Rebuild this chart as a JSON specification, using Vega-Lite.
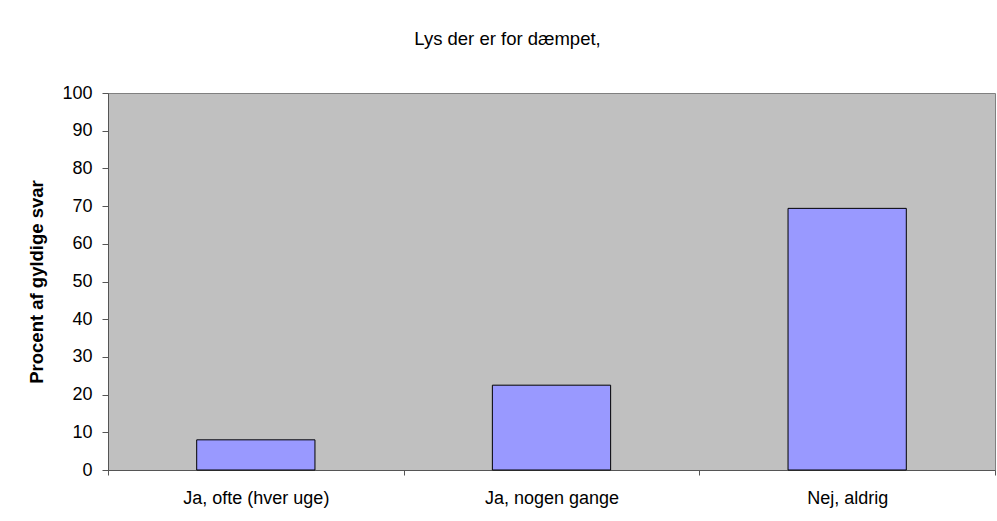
{
  "$schema": "https://vega.github.io/schema/vega-lite/v6.json",
  "width": 887,
  "height": 377,
  "autosize": {"type": "none"},
  "padding": {"left": 108, "top": 93, "right": 2, "bottom": 51},
  "background": "white",
  "title": {
    "text": "Lys der er for dæmpet,",
    "font": "Liberation Sans",
    "fontSize": 18.5,
    "fontWeight": "normal",
    "color": "black",
    "anchor": "middle",
    "baseline": "alphabetic",
    "dx": -44,
    "offset": 21
  },
  "config": {
    "view": {"fill": "#C0C0C0", "stroke": "#808080", "strokeWidth": 1},
    "axis": {
      "labelFont": "Liberation Sans",
      "titleFont": "Liberation Sans",
      "labelFontSize": 18,
      "labelColor": "black",
      "domainColor": "#555555",
      "tickColor": "#555555",
      "grid": false
    }
  },
  "data": {
    "values": [
      {"svar": "Ja, ofte (hver uge)", "procent": 8.0},
      {"svar": "Ja, nogen gange", "procent": 22.5},
      {"svar": "Nej, aldrig", "procent": 69.4}
    ]
  },
  "mark": {"type": "bar", "fill": "#9999FF", "stroke": "black", "strokeWidth": 1, "width": {"band": 0.4}},
  "encoding": {
    "x": {
      "field": "svar",
      "type": "nominal",
      "sort": null,
      "scale": {"paddingInner": 0, "paddingOuter": 0},
      "axis": {
        "title": null,
        "labelAngle": 0,
        "labelPadding": 14,
        "tickBand": "extent",
        "tickSize": 5
      }
    },
    "y": {
      "field": "procent",
      "type": "quantitative",
      "scale": {"domain": [0, 100], "nice": false},
      "axis": {
        "title": "Procent af gyldige svar",
        "titleFontSize": 18.5,
        "titleFontWeight": "bold",
        "titleColor": "black",
        "titlePadding": 15,
        "values": [0, 10, 20, 30, 40, 50, 60, 70, 80, 90, 100],
        "tickSize": 6,
        "labelPadding": 10
      }
    }
  }
}
